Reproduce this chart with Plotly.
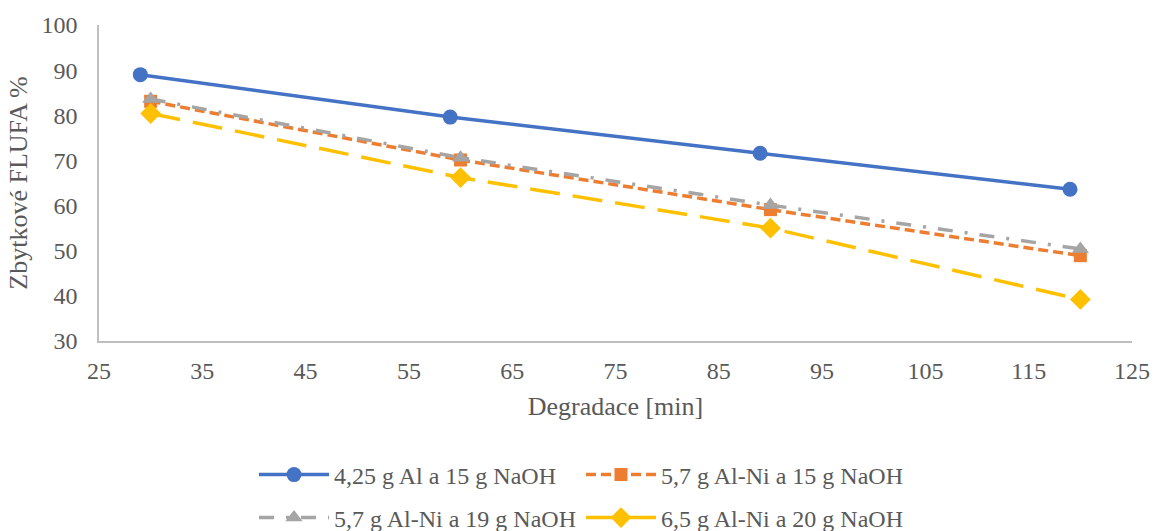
import plotly.graph_objects as go

# Degradation time [min] for each experiment series
time_al = [29, 59, 89, 119]
time_alni = [30, 60, 90, 120]

# Residual FLUFA [%]
al_15 = [89.0, 79.6, 71.6, 63.6]
alni_15 = [83.1, 70.1, 59.1, 48.9]
alni_19 = [83.6, 70.6, 60.1, 50.4]
alni_20 = [80.4, 66.2, 55.0, 39.2]

names = [
    "4,25 g Al a 15 g NaOH",
    "5,7 g Al-Ni a 15 g NaOH",
    "5,7 g Al-Ni a 19 g NaOH",
    "6,5 g Al-Ni a 20 g NaOH",
]

x_ticks = [25, 35, 45, 55, 65, 75, 85, 95, 105, 115, 125]
y_ticks = [30, 40, 50, 60, 70, 80, 90, 100]

FONT = "Liberation Serif"
TXT = "#595959"
AXIS = "#BFBFBF"

fig = go.Figure()
fig.add_trace(go.Scatter(
    x=time_al, y=al_15, name=names[0], mode="lines+markers", legend="legend",
    line=dict(color="#4472C4", width=3.5),
    marker=dict(symbol="circle", size=15, color="#4472C4"),
))
fig.add_trace(go.Scatter(
    x=time_alni, y=alni_15, name=names[1], mode="lines+markers", legend="legend",
    line=dict(color="#ED7D31", width=3.5, dash="10px,5px"),
    marker=dict(symbol="square", size=13, color="#ED7D31"),
))
fig.add_trace(go.Scatter(
    x=time_alni, y=alni_19, name=names[2], mode="lines+markers", legend="legend2",
    line=dict(color="#A5A5A5", width=3.5, dash="15px,12px,3px,12px"),
    marker=dict(symbol="triangle-up", size=15, color="#A5A5A5"),
))
fig.add_trace(go.Scatter(
    x=time_alni, y=alni_20, name=names[3], mode="lines+markers", legend="legend2",
    line=dict(color="#FFC000", width=3.5, dash="30px,13px"),
    marker=dict(symbol="diamond", size=16, color="#FFC000"),
))

legend_common = dict(
    orientation="h", xanchor="left", yanchor="middle",
    font=dict(family=FONT, size=24, color=TXT),
    entrywidth=242, itemwidth=70, bgcolor="rgba(0,0,0,0)",
)

fig.update_layout(
    width=1154, height=531,
    margin=dict(l=99, r=22, t=25, b=190, autoexpand=False),
    paper_bgcolor="white", plot_bgcolor="white",
    font=dict(family=FONT, color=TXT, size=24),
    showlegend=True,
    legend=dict(x=(254 - 99) / 1033, y=(341 - 475) / 316, **legend_common),
    legend2=dict(x=(254 - 99) / 1033, y=(341 - 518) / 316, **legend_common),
    xaxis=dict(
        range=[25, 125], tickvals=x_ticks, showgrid=False, zeroline=False,
        showline=True, linecolor=AXIS, linewidth=1.5, ticks="",
        tickfont=dict(family=FONT, size=24, color=TXT), ticklabelstandoff=7,
        title=dict(text="Degradace [min]", font=dict(family=FONT, size=26, color=TXT), standoff=14),
    ),
    yaxis=dict(
        range=[30, 100], tickvals=y_ticks, showgrid=False, zeroline=False,
        showline=True, linecolor=AXIS, linewidth=1.5, ticks="",
        tickfont=dict(family=FONT, size=24, color=TXT), ticklabelstandoff=15,
        title=dict(text="Zbytkové FLUFA %", font=dict(family=FONT, size=26, color=TXT), standoff=6),
    ),
)

fig.write_html("out.html")
